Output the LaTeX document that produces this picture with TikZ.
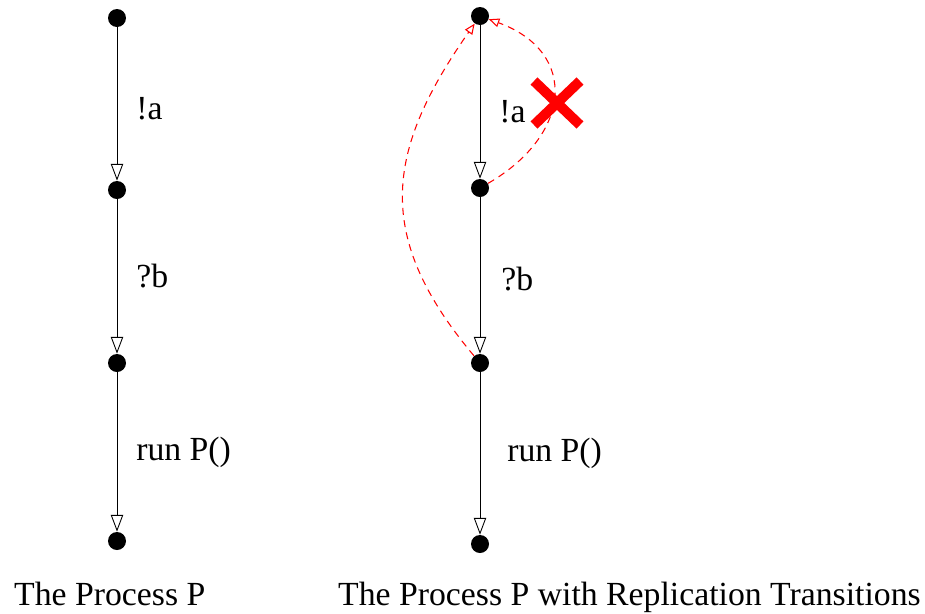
\documentclass[tikz,border=0pt]{standalone}
\usepackage{fontspec}
\setmainfont{Liberation Serif}
\usetikzlibrary{arrows.meta,positioning}

\begin{document}
\begin{tikzpicture}[
    x=0.02cm,y=-0.02cm,
    >={Triangle[open,length=9.5pt,width=7pt]},
    every node/.style={font=\fontsize{19.2}{23}\selectfont},
    state/.style={circle,fill=black,minimum size=0.36cm,inner sep=0pt},
    trans/.style={->,line width=0.5pt},
    repl/.style={->,red,line width=0.6pt,dash pattern=on 4pt off 3pt,
      >={Triangle[open,length=6pt,width=5pt]}}
  ]
  \useasboundingbox (0,0) rectangle (925,613);
  % the process P
  \node[state] (L1) at (117,18) {};
  \node[state] (L2) at (117,190) {};
  \node[state] (L3) at (117,363) {};
  \node[state] (L4) at (117,541) {};
  \path[trans]
    (L1) edge node[right=0.26cm,pos=0.53] {!a} (L2)
    (L2) edge node[right=0.26cm] {?b} (L3)
    (L3) edge node[right=0.26cm] {run P()} (L4);
  % with replication transitions
  \node[state] (R1) at (480,16) {};
  \node[state] (R2) at (480,188) {};
  \node[state] (R3) at (480,363) {};
  \node[state] (R4) at (480,544) {};
  \path[trans]
    (R1) edge node[right=0.26cm,pos=0.56] {!a} (R2)
    (R2) edge node[right=0.3cm,pos=0.52] {?b} (R3)
    (R3) edge node[right=0.42cm] {run P()} (R4);
  \path[repl]
    (R2) edge [out=30,in=-20,looseness=1.5] (R1)
    (R3) edge [out=130,in=-125,looseness=1.2] (R1);
  % the cross
  \draw[red,line width=0.2cm] (534,81) -- (580,125) (580,81) -- (534,125);
  \node[anchor=base west] (capL) at (8,605) {The Process P};
  \node[anchor=base west] (capR) at (332,605) {The Process P with Replication Transitions};
\end{tikzpicture}
\end{document}
